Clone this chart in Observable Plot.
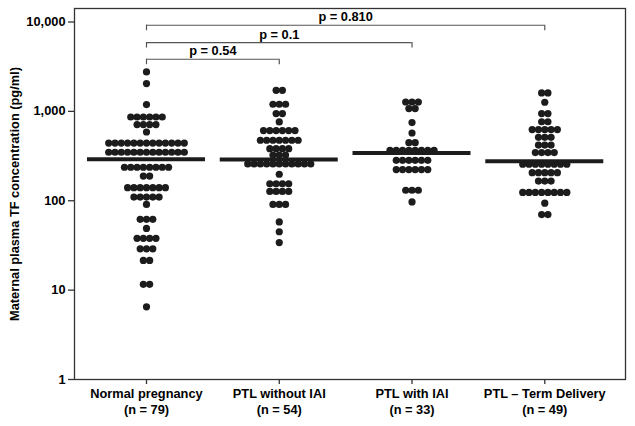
<!DOCTYPE html>
<html>
<head>
<meta charset="utf-8">
<script src="https://cdn.jsdelivr.net/npm/d3@7"></script>
<script src="https://cdn.jsdelivr.net/npm/@observablehq/plot@0.6"></script>
<style>
  html, body { margin: 0; padding: 0; background: #fff; }
  #chart svg { display: block; }
</style>
</head>
<body>
<div id="chart"></div>
<script>
// ---- data ----
const groups = ["Normal pregnancy", "PTL without IAI", "PTL with IAI", "PTL \u2013 Term Delivery"];
const groupN = [79, 54, 33, 49];

// each row of the dot plot: value (pg/ml) and number of dots in that row
const normalLevels = [2762, 2047, 1192, 865, 711, 588, 442, 349, 237, 189, 140, 110, 91, 62, 49, 38, 29, 21.5, 11.6, 6.5];
const normalCounts = [1, 1, 1, 6, 4, 1, 13, 13, 8, 2, 7, 5, 1, 3, 1, 4, 3, 2, 2, 1];

const ptlNoIaiLevels = [1722, 1202, 944, 762, 610, 475, 383, 325, 258, 198, 155, 127, 91, 58, 45, 34];
const ptlNoIaiCounts = [2, 3, 2, 1, 6, 7, 4, 3, 11, 1, 4, 4, 3, 1, 1, 1];

const ptlIaiLevels = [1274, 1075, 749, 573, 447, 366, 283, 223, 131, 97];
const ptlIaiCounts = [3, 2, 1, 1, 2, 8, 6, 6, 3, 1];

const termLevels = [1607, 1265, 944, 765, 626, 512, 420, 346, 256, 206, 166, 124, 94, 70];
const termCounts = [2, 1, 2, 2, 5, 3, 3, 4, 8, 5, 3, 8, 1, 2];

const medians = [291, 289, 342, 276];

const yTicks = [1, 10, 100, 1000, 10000];
const yLabel = "Maternal plasma TF concentration (pg/ml)";

// pairwise comparisons (bracket level in pg/ml)
const compFrom = [0, 0, 0];
const compTo = [3, 2, 1];
const compP = ["p = 0.810", "p = 0.1", "p = 0.54"];
const compLevel = [9200, 5890, 3830];

// ---- layout ----
const W = 635, H = 426, mL = 74, mR = 10, mT = 8, mB = 47;
const FS = 12.8;
const xDomain = [-0.5423, 3.608];
const yDomain = [1, 14160];
const pxPerUnit = (W - mL - mR) / (xDomain[1] - xDomain[0]);
const pxPerDecade = (H - mT - mB) / Math.log10(yDomain[1] / yDomain[0]);
const dotStep = 6.3;       // px between dot centres in a row
const medianHalf = 59;     // px half-width of median bar
const bracketTick = 5.5;   // px length of bracket end ticks

const levels = [normalLevels, ptlNoIaiLevels, ptlIaiLevels, termLevels];
const counts = [normalCounts, ptlNoIaiCounts, ptlIaiCounts, termCounts];

const dots = groups.flatMap((g, i) =>
  levels[i].flatMap((v, j) =>
    d3.range(counts[i][j]).map(k => ({
      x: i + (k - (counts[i][j] - 1) / 2) * dotStep / pxPerUnit,
      y: v
    }))
  )
);

const medianRows = medians.map((m, i) => ({
  x1: i - medianHalf / pxPerUnit,
  x2: i + medianHalf / pxPerUnit,
  y: m
}));

const comps = compP.map((p, i) => ({
  from: compFrom[i], to: compTo[i], p, y: compLevel[i],
  yEnd: compLevel[i] * Math.pow(10, -bracketTick / pxPerDecade),
  mid: (compFrom[i] + compTo[i]) / 2
}));

const chart = Plot.plot({
  width: W,
  height: H,
  marginLeft: mL,
  marginRight: mR,
  marginTop: mT,
  marginBottom: mB,
  style: { fontFamily: "'Liberation Sans', Arial, sans-serif", fontSize: FS + "px", color: "#000", background: "#fff" },
  x: { type: "linear", domain: xDomain },
  y: { type: "log", domain: yDomain },
  marks: [
    Plot.frame({ stroke: "#333", strokeWidth: 1.3 }),
    Plot.axisY({
      ticks: yTicks, tickFormat: d3.format(","), tickSize: 6, tickPadding: 3,
      fontWeight: "bold", fontSize: FS, stroke: "#333", strokeWidth: 1.3,
      label: yLabel, labelAnchor: "center", labelArrow: "none", labelOffset: 65
    }),
    Plot.axisX({
      ticks: [0, 1, 2, 3],
      tickFormat: i => `${groups[i]}\n(n = ${groupN[i]})`,
      tickSize: 5, tickPadding: 3, fontWeight: "bold", fontSize: FS,
      lineHeight: 1.2, stroke: "#333", strokeWidth: 1.3, label: null
    }),
    Plot.dot(dots, { x: "x", y: "y", r: 3.6, fill: "#1c1c1c", stroke: "none" }),
    Plot.ruleY(medianRows, { y: "y", x1: "x1", x2: "x2", stroke: "#1c1c1c", strokeWidth: 4 }),
    Plot.ruleY(comps, { y: "y", x1: "from", x2: "to", stroke: "#555", strokeWidth: 1.2 }),
    Plot.ruleX(comps, { x: "from", y1: "y", y2: "yEnd", stroke: "#555", strokeWidth: 1.2 }),
    Plot.ruleX(comps, { x: "to", y1: "y", y2: "yEnd", stroke: "#555", strokeWidth: 1.2 }),
    Plot.text(comps, { x: "mid", y: "y", text: "p", dy: -8, fontWeight: "bold", fontSize: FS, fill: "#000" })
  ]
});
document.getElementById("chart").append(chart);
</script>
</body>
</html>
